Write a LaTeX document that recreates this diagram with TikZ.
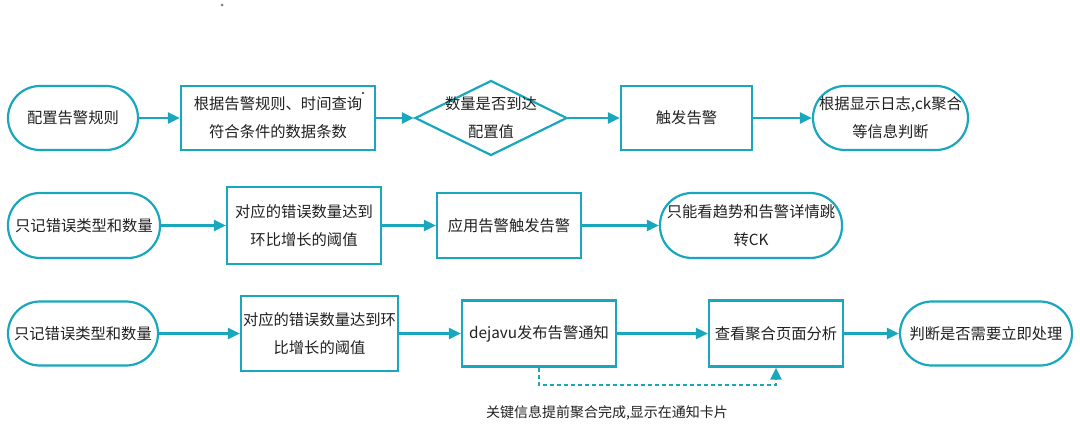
\documentclass[tikz,border=0pt]{standalone}
\usepackage{fontspec}
\setmainfont{Noto Sans CJK SC}
\usepackage{tikz}
\usetikzlibrary{shapes, arrows.meta, positioning, calc}
\definecolor{flowteal}{RGB}{24, 167, 188}
\definecolor{inkgray}{RGB}{32, 32, 32}

\tikzset{
  term/.style={draw=flowteal, line width=2.2pt, rounded corners=32pt, minimum height=64pt, inner sep=0pt, align=center, text=inkgray},
  proc/.style={draw=flowteal, line width=2.2pt, minimum height=64pt, inner sep=0pt, align=center, text=inkgray},
  decision/.style={draw=flowteal, line width=2.2pt, diamond, minimum width=152pt, minimum height=75pt, inner sep=0pt},
  flow/.style={draw=flowteal, line width=2.2pt, -{Triangle[length=12pt, width=11pt]}},
}

\begin{document}
\begin{tikzpicture}[x=1pt, y=-1pt, font=\fontsize{15.3}{28}\selectfont]
  \useasboundingbox (0,0) rectangle (1080,434);

  % first row
  \node[term, minimum width=130pt] (cfg) at (73,118) {配置告警规则};
  \node[proc, minimum width=194pt] (query) at (278,118) {根据告警规则、时间查询\\符合条件的数据条数};
  \node[decision, label={[align=center, text=inkgray]center:数量是否到达\\配置值}] (check) at (491,118) {};
  \node[proc, minimum width=131pt] (fire) at (686.5,118) {触发告警};
  \node[term, minimum width=155pt] (judge) at (890.5,118) {根据显示日志,ck聚合\\等信息判断};

  \draw[flow] (cfg) -- (query);
  \draw[flow] (query) -- (check);
  \draw[flow] (check) -- (fire);
  \draw[flow] (fire) -- (judge);

  % second row
  \node[term, minimum width=152pt, minimum height=65pt] (recA) at (84,225.5) {只记错误类型和数量};
  \node[proc, minimum width=154pt, minimum height=77pt] (thrA) at (304,225.5) {对应的错误数量达到\\环比增长的阈值};
  \node[proc, minimum width=144pt, minimum height=65pt] (app) at (509,225.5) {应用告警触发告警};
  \node[term, minimum width=182pt, minimum height=65pt] (trend) at (751,225.5) {只能看趋势和告警详情跳\\转CK};

  \draw[flow] (recA) -- (thrA);
  \draw[flow] (thrA) -- (app);
  \draw[flow] (app) -- (trend);

  % third row
  \node[term, minimum width=150pt] (recB) at (83,333.5) {只记错误类型和数量};
  \node[proc, minimum width=157pt, minimum height=75pt] (thrB) at (319.5,333.5) {对应的错误数量达到环\\比增长的阈值};
  \node[proc, minimum width=154pt, minimum height=66pt] (pub) at (539,333.5) {dejavu发布告警通知};
  \node[proc, minimum width=134pt, minimum height=66pt] (agg) at (776,333.5) {查看聚合页面分析};
  \node[term, minimum width=172pt] (decide) at (986,333.5) {判断是否需要立即处理};

  \draw[flow] (recB) -- (thrB);
  \draw[flow] (thrB) -- (pub);
  \draw[flow] (pub) -- (agg);
  \draw[flow] (agg) -- (decide);
  \draw[flow, dash pattern=on 4pt off 3pt] (pub.south) -- ++(0,17) -| (agg.south);
  \node[text=inkgray, font=\fontsize{14}{16}\selectfont] (note) at (607,413) {关键信息提前聚合完成,显示在通知卡片};

  % stray dots
  \fill[gray] (222,5) circle (1.5pt);
  \fill[inkgray] (363,93) circle (1.2pt);
\end{tikzpicture}
\end{document}
